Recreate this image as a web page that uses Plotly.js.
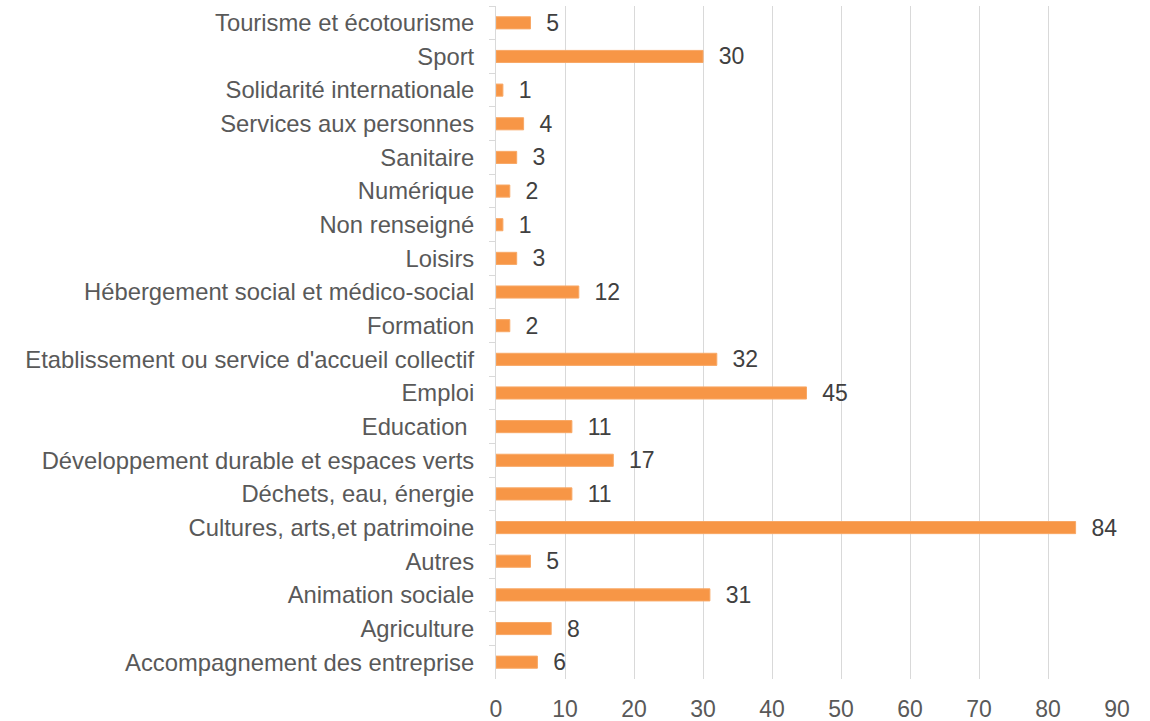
<!DOCTYPE html>
<html>
<head>
<meta charset="utf-8">
<script src="https://cdn.plot.ly/plotly-3.0.1.min.js"></script>
<style>html,body{margin:0;padding:0;background:#fff;}#chart{width:1150px;height:721px;}</style>
</head>
<body>
<div id="chart"></div>
<script>
const categories = [
  "Tourisme et écotourisme",
  "Sport",
  "Solidarité internationale",
  "Services aux personnes",
  "Sanitaire",
  "Numérique",
  "Non renseigné",
  "Loisirs",
  "Hébergement social et médico-social",
  "Formation",
  "Etablissement ou service d'accueil collectif",
  "Emploi",
  "Education\u00a0",
  "Développement durable et espaces verts",
  "Déchets, eau, énergie",
  "Cultures, arts,et patrimoine",
  "Autres",
  "Animation sociale",
  "Agriculture",
  "Accompagnement des entreprise"
];
const values = [5, 30, 1, 4, 3, 2, 1, 3, 12, 2, 32, 45, 11, 17, 11, 84, 5, 31, 8, 6];
const xTicks = [0, 10, 20, 30, 40, 50, 60, 70, 80, 90];

const fontFamily = '"Liberation Sans", Arial, sans-serif';
const textColor = '#595959';

const trace = {
  type: 'bar',
  orientation: 'h',
  y: categories,
  x: values,
  text: values.map(v => String(v)),
  texttemplate: '\u00a0\u00a0%{text}',
  textposition: 'outside',
  constraintext: 'none',
  cliponaxis: false,
  textfont: {family: fontFamily, size: 23, color: '#404040'},
  marker: {color: '#F79646', line: {color: '#F8A866', width: 1}},
  hoverinfo: 'none'
};

const layout = {
  width: 1150,
  height: 721,
  margin: {l: 496, r: 33, t: 6, b: 42},
  paper_bgcolor: '#ffffff',
  plot_bgcolor: '#ffffff',
  showlegend: false,
  bargap: 0.64,
  font: {family: fontFamily, size: 23, color: textColor},
  xaxis: {
    range: [0, 90],
    tickvals: xTicks,
    ticktext: xTicks.map(String),
    showgrid: true,
    gridcolor: '#D9D9D9',
    gridwidth: 1,
    zeroline: false,
    showline: false,
    ticks: '',
    tickfont: {family: fontFamily, size: 23, color: textColor},
    ticklabelstandoff: 14,
    fixedrange: true
  },
  yaxis: {
    type: 'category',
    autorange: 'reversed',
    showgrid: false,
    zeroline: false,
    showline: true,
    linecolor: '#D9D9D9',
    linewidth: 1,
    ticks: 'outside',
    tickson: 'boundaries',
    ticklen: 6,
    tickcolor: '#D9D9D9',
    tickfont: {family: fontFamily, size: 23.8, color: textColor},
    ticklabelstandoff: 16,
    fixedrange: true
  }
};

Plotly.newPlot('chart', [trace], layout, {displayModeBar: false, staticPlot: true});
</script>
</body>
</html>
